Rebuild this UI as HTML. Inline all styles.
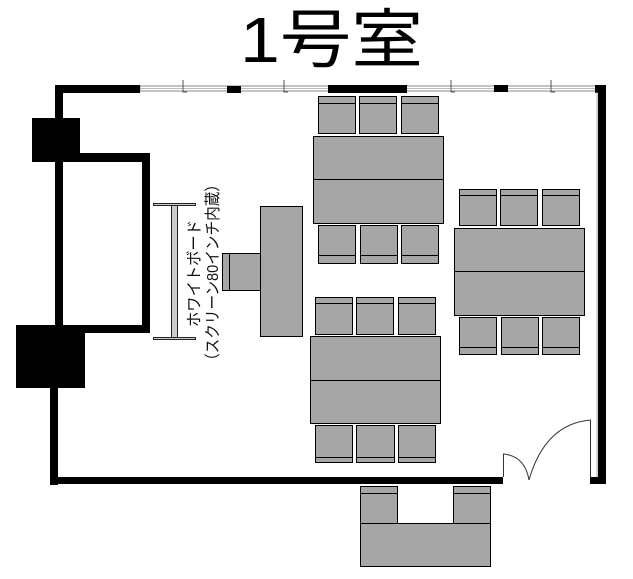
<!DOCTYPE html>
<html><head><meta charset="utf-8"><style>html,body{margin:0;padding:0;background:#fff}svg{display:block}</style></head>
<body>
<svg width="633" height="579" viewBox="0 0 633 579" xmlns="http://www.w3.org/2000/svg">
<text x="240" y="62" font-family="Liberation Sans, Noto Sans CJK JP, sans-serif" font-size="64" textLength="183" lengthAdjust="spacingAndGlyphs" fill="#000">1号室</text>
<!-- top wall windows -->
<rect x="140" y="86" width="458" height="5" fill="#fff" stroke="#888" stroke-width="1"/>
<line x1="140" y1="88.5" x2="598" y2="88.5" stroke="#bbb" stroke-width="1"/>
<g stroke="#555" stroke-width="1" fill="none">
<path d="M183 80v12h4M284 80v12h4M451 80v12h4M551 80v12h4"/>
</g>
<rect x="55" y="85" width="85" height="8" fill="#000"/>
<rect x="227" y="86" width="14" height="7" fill="#000"/>
<rect x="328" y="85" width="79" height="8" fill="#000"/>
<rect x="494" y="85" width="14" height="7" fill="#000"/>
<rect x="595" y="85" width="11" height="8" fill="#000"/>
<!-- left wall -->
<rect x="55" y="85" width="8" height="245" fill="#000"/>
<rect x="50" y="385" width="8" height="100" fill="#000"/>
<rect x="32" y="118" width="48" height="44" fill="#000"/>
<rect x="63" y="153" width="87" height="9" fill="#000"/>
<rect x="142" y="153" width="8" height="180" fill="#000"/>
<rect x="63" y="325" width="87" height="8" fill="#000"/>
<rect x="16" y="325" width="69" height="63" fill="#000"/>
<!-- right wall -->
<rect x="598" y="85" width="8" height="399" fill="#000"/>
<line x1="597" y1="92" x2="597" y2="477" stroke="#aaa"/>
<rect x="590" y="477" width="16" height="7" fill="#000"/>
<!-- bottom wall -->
<rect x="50" y="477" width="453" height="7" fill="#000"/>
<g stroke="#333" stroke-width="1" fill="none">
<path d="M503.5 477V454Q525 456 529 480"/>
<path d="M590.5 477V420Q545 424 529 480"/>
</g>
<!-- whiteboard -->
<g stroke="#222" stroke-width="1" fill="#ccc">
<rect x="153.5" y="203.5" width="42" height="2"/>
<rect x="153.5" y="337.5" width="42" height="2"/>
<rect x="171.5" y="205.5" width="6" height="132"/>
</g>
<g font-family="Liberation Sans, Noto Sans CJK JP, sans-serif" font-size="16" fill="#111">
<text transform="translate(199.5,327) rotate(-90)" textLength="107" lengthAdjust="spacingAndGlyphs">ホワイトボード</text>
<text transform="translate(218,368) rotate(-90)" textLength="191" lengthAdjust="spacingAndGlyphs">（スクリーン80インチ内蔵）</text>
</g>
<g fill="#a6a6a6" stroke="#000" stroke-width="1">
<!-- lectern -->
<rect x="222.5" y="253.5" width="38" height="37"/>
<line x1="229.5" y1="253.5" x2="229.5" y2="290.5"/>
<rect x="260.5" y="206.5" width="42" height="130"/>
<!-- group 1 -->
<rect x="318.5" y="96.5" width="37" height="37"/><rect x="359.5" y="96.5" width="37" height="37"/><rect x="401.5" y="96.5" width="37" height="37"/>
<path d="M318.5 103.5h37M359.5 103.5h37M401.5 103.5h37"/>
<rect x="313.5" y="136.5" width="130" height="87"/><line x1="313.5" y1="179.5" x2="443.5" y2="179.5"/>
<rect x="318.5" y="225.5" width="37" height="38"/><rect x="360.5" y="225.5" width="37" height="38"/><rect x="401.5" y="225.5" width="37" height="38"/>
<path d="M318.5 255.5h37M360.5 255.5h37M401.5 255.5h37"/>
<!-- group 2 -->
<rect x="459.5" y="189.5" width="37" height="36"/><rect x="500.5" y="189.5" width="37" height="36"/><rect x="542.5" y="189.5" width="37" height="36"/>
<path d="M459.5 195.5h37M500.5 195.5h37M542.5 195.5h37"/>
<rect x="454.5" y="228.5" width="130" height="87"/><line x1="454.5" y1="271.5" x2="584.5" y2="271.5"/>
<rect x="459.5" y="317.5" width="37" height="37"/><rect x="501.5" y="317.5" width="37" height="37"/><rect x="542.5" y="317.5" width="37" height="37"/>
<path d="M459.5 347.5h37M501.5 347.5h37M542.5 347.5h37"/>
<!-- group 3 -->
<rect x="315.5" y="297.5" width="37" height="37"/><rect x="356.5" y="297.5" width="37" height="37"/><rect x="398.5" y="297.5" width="37" height="37"/>
<path d="M315.5 303.5h37M356.5 303.5h37M398.5 303.5h37"/>
<rect x="310.5" y="336.5" width="130" height="87"/><line x1="310.5" y1="380.5" x2="440.5" y2="380.5"/>
<rect x="315.5" y="425.5" width="37" height="37"/><rect x="356.5" y="425.5" width="38" height="37"/><rect x="398.5" y="425.5" width="37" height="37"/>
<path d="M315.5 457.5h37M356.5 457.5h38M398.5 457.5h37"/>
<!-- outside -->
<rect x="360.5" y="486.5" width="37" height="37"/><rect x="453.5" y="486.5" width="37" height="37"/>
<path d="M360.5 493.5h37M453.5 493.5h37"/>
<rect x="360.5" y="523.5" width="130" height="43"/>
</g>
</svg>
</body></html>
